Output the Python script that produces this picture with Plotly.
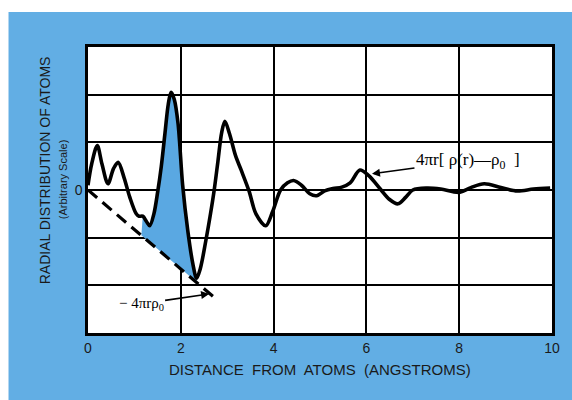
import plotly.graph_objects as go

# ---- data ----
r = [0.0, 0.08, 0.2, 0.3, 0.43, 0.55, 0.65, 0.78, 0.9, 1.04, 1.1, 1.18, 1.26, 1.33,
     1.42, 1.5, 1.58, 1.66, 1.73, 1.79, 1.86, 1.94, 2.04, 2.15, 2.26, 2.34, 2.42,
     2.54, 2.64, 2.72, 2.8, 2.88, 2.95, 3.05, 3.18, 3.3, 3.47, 3.62, 3.83, 3.98,
     4.15, 4.3, 4.43, 4.6, 4.78, 4.93, 5.1, 5.28, 5.47, 5.65, 5.86, 6.05, 6.3,
     6.5, 6.68, 6.85, 7.0, 7.3, 7.6, 8.0, 8.25, 8.54, 8.9, 9.25, 9.6, 9.96]
g = [0.1, 0.55, 0.93, 0.55, 0.13, 0.45, 0.58, 0.25, -0.15, -0.5, -0.55, -0.55, -0.66, -0.75,
     -0.5, -0.05, 0.5, 1.2, 1.8, 2.05, 1.9, 1.4, 0.1, -0.85, -1.55, -1.85, -1.65,
     -1.06, -0.5, 0.0, 0.6, 1.2, 1.44, 1.18, 0.72, 0.42, -0.02, -0.5, -0.75, -0.45,
     0.0, 0.15, 0.2, 0.1, -0.08, -0.12, -0.02, 0.03, 0.06, 0.15, 0.42, 0.3, 0.02,
     -0.2, -0.29, -0.15, 0.0, 0.04, 0.02, -0.05, 0.05, 0.13, 0.05, -0.02, 0.02, 0.04]

rho_line_x = [0.0, 2.8]
rho_line_y = [0.0, -2.32]

fill_lo_x = [1.15, 2.34]
fill_lo_y = [-0.95, -1.93]

x_tick_vals = [0, 2, 4, 6, 8, 10]
x_tick_text = ["0", "2", "4", "6", "8", "10"]
y_tick_vals = [-3, -2, -1, 0, 1, 2, 3]
y_tick_text = ["", "", "", "0", "", "", ""]

BLUE = "#62aee4"
FILL = "#5aa8e2"

sub_r = [x for x in r if fill_lo_x[0] <= x <= fill_lo_x[1]]
sub_g = [y for x, y in zip(r, g) if fill_lo_x[0] <= x <= fill_lo_x[1]]

fig = go.Figure()
fig.add_trace(go.Scatter(x=fill_lo_x, y=fill_lo_y, mode="lines",
                         line=dict(width=0, color=FILL), hoverinfo="skip"))
fig.add_trace(go.Scatter(x=sub_r, y=sub_g, mode="lines", fill="tonexty", fillcolor=FILL,
                         line=dict(width=0, color=FILL, shape="spline", smoothing=0.9),
                         hoverinfo="skip"))
fig.add_trace(go.Scatter(x=rho_line_x, y=rho_line_y, mode="lines",
                         line=dict(color="black", width=3.2, dash="12px,7px")))
fig.add_trace(go.Scatter(x=r, y=g, mode="lines",
                         line=dict(color="black", width=3.6, shape="spline", smoothing=0.9)))

axis_common = dict(showline=True, linecolor="black", linewidth=2.5, mirror=True,
                   showgrid=True, gridcolor="black", gridwidth=1.5, zeroline=False,
                   ticks="", tickfont=dict(family="Liberation Sans", size=14, color="#1a1a1a"))
fig.update_xaxes(range=[0, 10], tickvals=x_tick_vals, ticktext=x_tick_text, **axis_common)
fig.update_yaxes(range=[-3, 3], tickvals=y_tick_vals, ticktext=y_tick_text, **axis_common)

C = dict(xanchor="center", yanchor="middle")
ann = []
ann.append(dict(text="DISTANCE\u00a0 FROM\u00a0 ATOMS\u00a0 (ANGSTROMS)", xref="paper", yref="paper",
                x=(322 - 88) / 467, y=(333 - 369) / 286, showarrow=False, **C,
                font=dict(family="Liberation Sans", size=15, color="#1a1a1a")))
ann.append(dict(text="RADIAL DISTRIBUTION OF ATOMS", xref="paper", yref="paper",
                x=(45 - 88) / 467, y=(333 - 170) / 286, showarrow=False, textangle=-90, **C,
                font=dict(family="Liberation Sans", size=14, color="#1a1a1a")))
ann.append(dict(text="(Arbitrary Scale)", xref="paper", yref="paper",
                x=(63 - 88) / 467, y=(333 - 180) / 286, showarrow=False, textangle=-90, **C,
                font=dict(family="Liberation Sans", size=11, color="#1a1a1a")))
ann.append(dict(text="4\u03c0r[ \u03c1(r)\u2014\u03c1<sub>0</sub>  ]", x=6.12, y=0.34,
                ax=96, ay=-13, showarrow=True, arrowhead=2, arrowsize=1, arrowwidth=1.6,
                arrowcolor="black", font=dict(family="Liberation Serif", size=17, color="black")))
ann.append(dict(text="\u2212 4\u03c0r\u03c1<sub>0</sub>", x=2.61, y=-2.18,
                ax=-68, ay=10, showarrow=True, arrowhead=2, arrowsize=1, arrowwidth=1.6,
                arrowcolor="black", font=dict(family="Liberation Serif", size=15, color="black")))

shapes = [
    dict(type="rect", xref="paper", yref="paper", x0=-0.3, x1=1.2,
         y0=(333 - 12) / 286, y1=1.3, fillcolor="white", line=dict(width=0)),
    dict(type="rect", xref="paper", yref="paper", x0=-0.3, x1=(8 - 88) / 467,
         y0=-0.4, y1=1.3, fillcolor="white", line=dict(width=0)),
]

fig.update_layout(width=572, height=400, margin=dict(l=88, r=17, t=47, b=67),
                  paper_bgcolor=BLUE, plot_bgcolor="white", showlegend=False,
                  annotations=ann, shapes=shapes)

fig.write_html("out.html")
